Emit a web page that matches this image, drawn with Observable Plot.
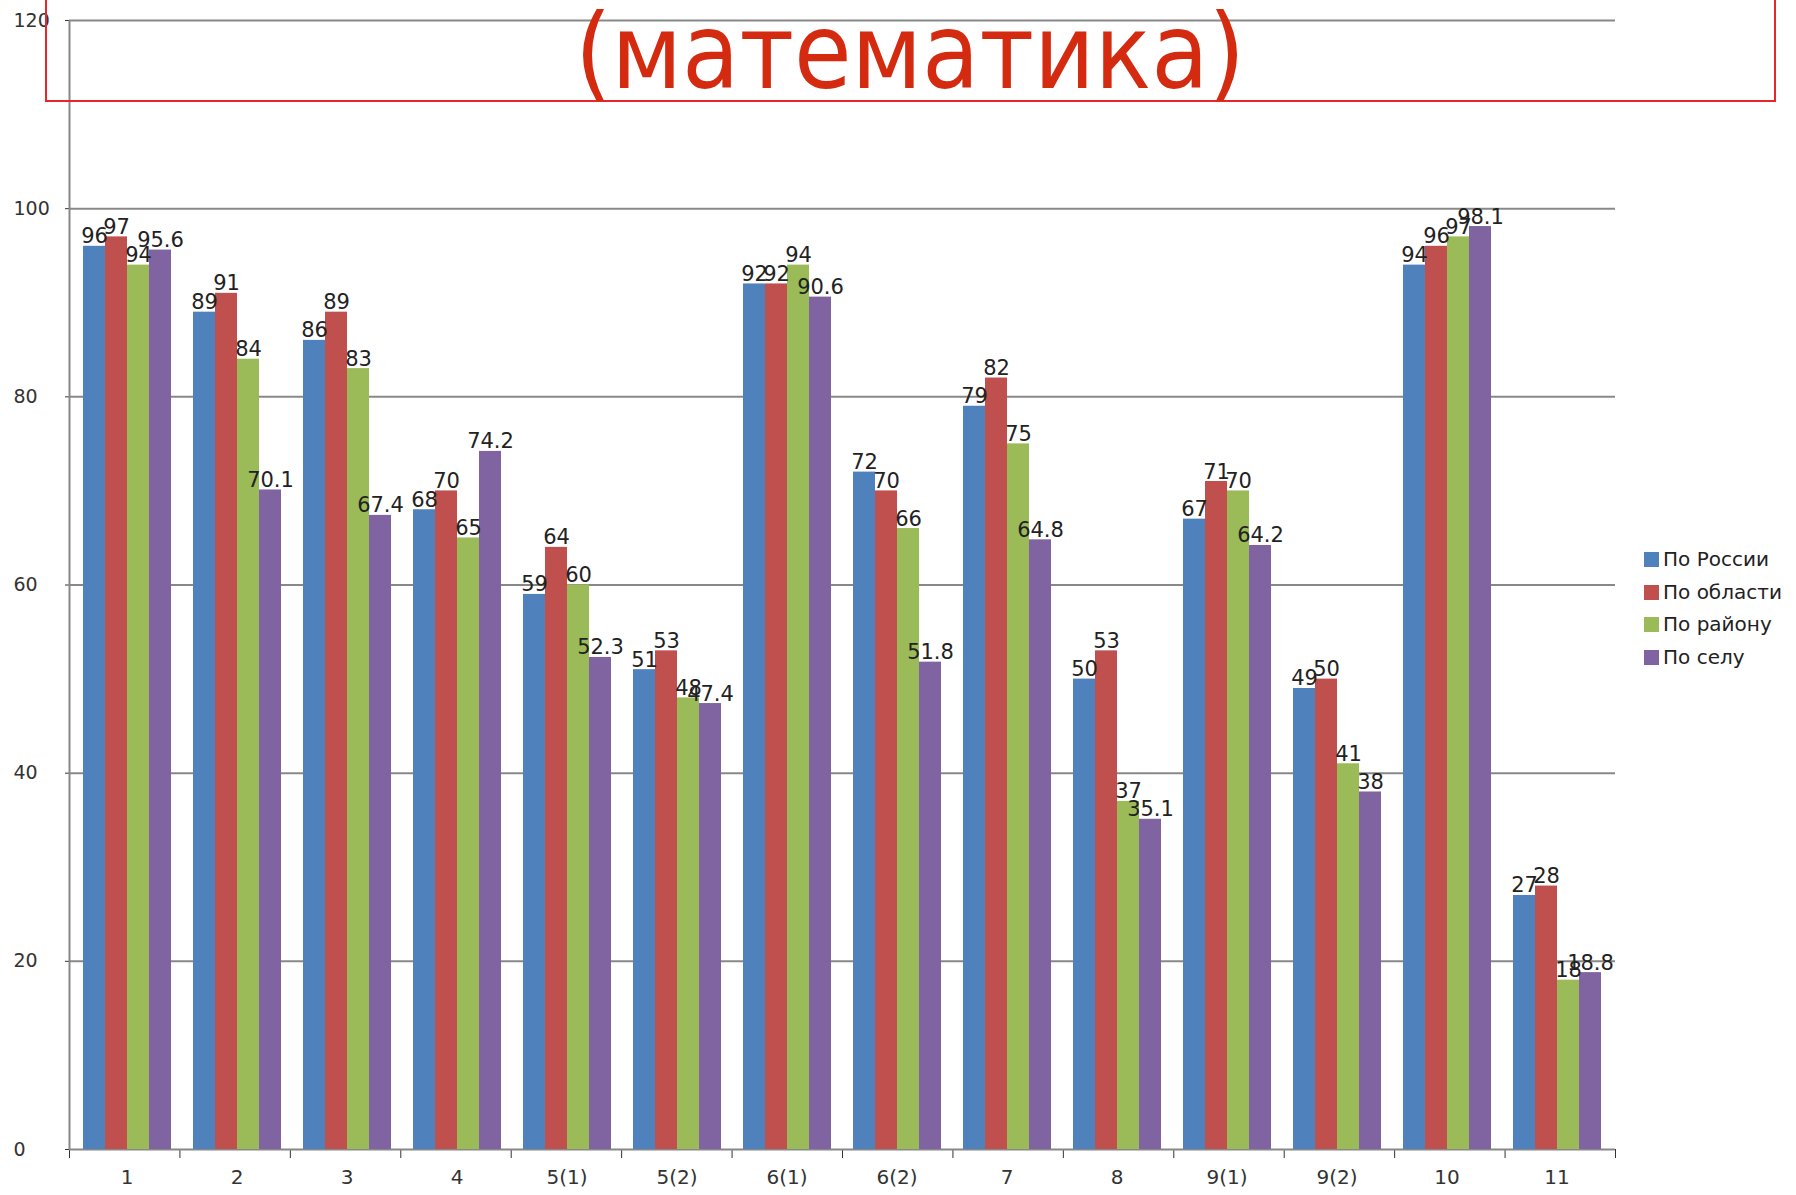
<!DOCTYPE html>
<html>
<head>
<meta charset="utf-8">
<script src="https://cdn.jsdelivr.net/npm/d3@7"></script>
<script src="https://cdn.jsdelivr.net/npm/@observablehq/plot@0.6"></script>
<style>
html, body { margin: 0; padding: 0; background: #fff; }
#wrap { position: relative; width: 1796px; height: 1195px; overflow: hidden; font-family: "DejaVu Sans", "Liberation Sans", sans-serif; }
#wrap > svg, #wrap > div.layer { position: absolute; left: 0; top: 0; }
#legend { position: absolute; left: 1644px; top: 543px; font-size: 20px; color: #222; line-height: 32.7px; }
#legend .item { display: flex; align-items: center; white-space: nowrap; }
#legend .sw { width: 15px; height: 15px; margin-right: 4px; }
</style>
</head>
<body>
<div id="wrap"></div>
<script>
// ---- data ----
const categories = ["1", "2", "3", "4", "5(1)", "5(2)", "6(1)", "6(2)", "7", "8", "9(1)", "9(2)", "10", "11"];
const seriesNames = ["По России", "По области", "По району", "По селу"];
const russia = [96, 89, 86, 68, 59, 51, 92, 72, 79, 50, 67, 49, 94, 27];
const oblast = [97, 91, 89, 70, 64, 53, 92, 70, 82, 53, 71, 50, 96, 28];
const rayon  = [94, 84, 83, 65, 60, 48, 94, 66, 75, 37, 70, 41, 97, 18];
const selo   = [95.6, 70.1, 67.4, 74.2, 52.3, 47.4, 90.6, 51.8, 64.8, 35.1, 64.2, 38, 98.1, 18.8];
const yTicks = [0, 20, 40, 60, 80, 100, 120];
const titleText = "(математика)";

const colors = ["#4F81BD", "#C0504D", "#9BBB59", "#8064A2"];
const seriesValues = [russia, oblast, rayon, selo];
const rows = categories.flatMap((c, i) =>
  seriesNames.map((s, j) => ({cat: c, series: s, value: seriesValues[j][i]})));
const boundaryTicks = d3.range(categories.length + 1);

const W = 1796, H = 1195;
const M = {marginTop: 20, marginRight: 181, marginBottom: 46, marginLeft: 69};
const wrap = document.getElementById("wrap");

// ---- background layer: gridlines, axes ----
const bg = Plot.plot({
  width: W, height: H, ...M,
  style: {background: "transparent", fontSize: "18px", color: "#333", fontFamily: "DejaVu Sans, sans-serif"},
  x: {domain: [0, categories.length], ticks: boundaryTicks, tickSize: 9, tickFormat: () => "", label: null, axis: "bottom"},
  y: {domain: [0, 120], ticks: yTicks, tickSize: 4, tickFormat: () => "", label: null},
  marks: [
    Plot.ruleY(yTicks, {stroke: "#888", strokeWidth: 2}),
    Plot.ruleX([0], {stroke: "#888", strokeWidth: 2}),
    Plot.text(yTicks, {y: d => d, text: d => String(d), frameAnchor: "left", textAnchor: "start", dx: -56, fill: "#333", fontSize: 19})
  ]
});
wrap.appendChild(bg);

// ---- foreground layer: bars and labels ----
const fg = Plot.plot({
  width: W, height: H, ...M,
  style: {background: "transparent", fontSize: "20px", color: "#333", fontFamily: "DejaVu Sans, sans-serif"},
  fx: {domain: categories, paddingInner: 0.19, paddingOuter: 0.095, label: null, tickSize: 0, tickPadding: 20, axis: "bottom"},
  x: {domain: seriesNames, padding: 0, axis: null},
  y: {domain: [0, 120], axis: null},
  color: {domain: seriesNames, range: colors},
  marks: [
    Plot.barY(rows, {fx: "cat", x: "series", y: "value", fill: "series"}),
    Plot.text(rows, {fx: "cat", x: "series", y: "value", text: d => String(d.value), lineAnchor: "bottom", dy: -3, fontSize: 21, fill: "#222"})
  ]
});
wrap.appendChild(fg);

// ---- title overlay ----
const ns = "http://www.w3.org/2000/svg";
const tsvg = document.createElementNS(ns, "svg");
tsvg.setAttribute("width", W); tsvg.setAttribute("height", 120);
const rect = document.createElementNS(ns, "rect");
rect.setAttribute("x", 46); rect.setAttribute("y", -10);
rect.setAttribute("width", 1729); rect.setAttribute("height", 111);
rect.setAttribute("fill", "none"); rect.setAttribute("stroke", "#E8262A"); rect.setAttribute("stroke-width", 2);
tsvg.appendChild(rect);
const t = document.createElementNS(ns, "text");
t.setAttribute("x", 910); t.setAttribute("y", 88);
t.setAttribute("text-anchor", "middle");
t.setAttribute("font-size", 104);
t.setAttribute("font-family", "DejaVu Sans Condensed, DejaVu Sans, sans-serif");
t.setAttribute("fill", "#D42A10");
t.textContent = titleText;
tsvg.appendChild(t);
wrap.appendChild(tsvg);

// ---- legend ----
const legend = document.createElement("div");
legend.id = "legend";
seriesNames.forEach((s, i) => {
  const item = document.createElement("div");
  item.className = "item";
  const sw = document.createElement("span");
  sw.className = "sw"; sw.style.background = colors[i];
  const lab = document.createElement("span");
  lab.textContent = s;
  item.appendChild(sw); item.appendChild(lab);
  legend.appendChild(item);
});
wrap.appendChild(legend);
</script>
</body>
</html>
